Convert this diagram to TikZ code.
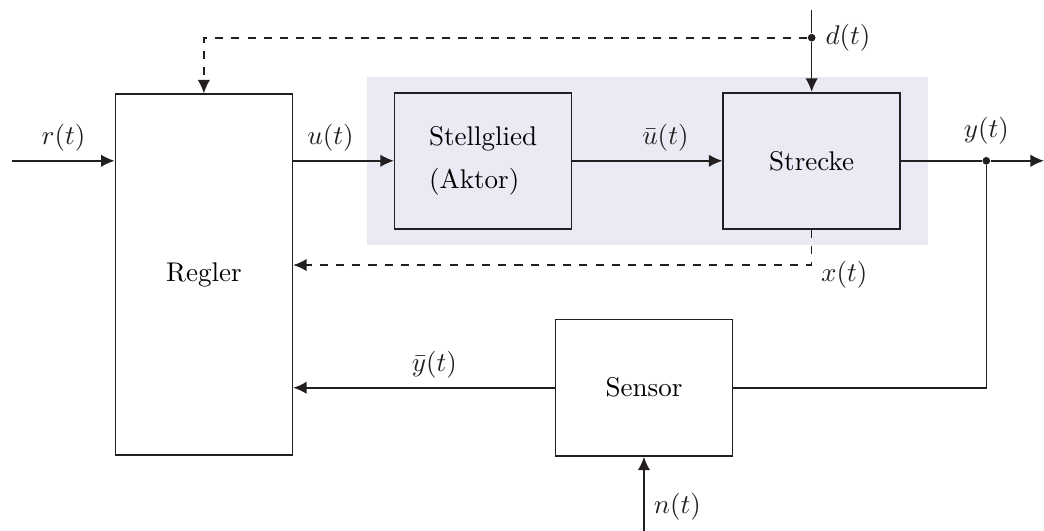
\documentclass[tikz,border=0pt]{standalone}
\usepackage{amsmath}
\usepackage{tikz}
\usetikzlibrary{arrows.meta,positioning,calc,fit,backgrounds}
\definecolor{ink}{RGB}{35,31,32}
\definecolor{soft}{RGB}{234,234,245}

\begin{document}
\begin{tikzpicture}[x=1cm,y=1cm,>={Latex[length=5pt,width=4.6pt]}]
\tikzset{blk/.style={rectangle,draw=ink,semithick,minimum width=2.3cm,inner sep=0pt},
  sig/.style={->,semithick,draw=ink},fb/.style={sig,dashed},wire/.style={semithick,draw=ink},
  lab/.style={text=ink},pt/.style={circle,fill=ink,inner sep=0pt,minimum size=1mm}}
\useasboundingbox (0,0) rectangle (13.57,-6.90);
\node[blk,minimum height=4.69cm] (reg) at (2.65,-3.57) {Regler};
\node[blk,minimum height=1.77cm,align=left] (act) at (6.28,-2.09) {Stellglied\\[4pt](Aktor)};
\node[blk,minimum height=1.77cm] (plant) at (10.55,-2.09) {Strecke};
\node[blk,minimum height=1.77cm] (sens) at (8.37,-5.04) {Sensor};
\coordinate (rin) at (0.16,-2.09);\coordinate (yout) at (13.57,-2.09);
\coordinate (dtop) at (10.55,-0.13);\coordinate (nin) at (8.37,-6.90);\coordinate (xc) at (10.55,-3.445);
\node[pt] (yj) at (12.82,-2.09) {};\node[pt] (dj) at (10.55,-0.49) {};
% forward path
\draw[sig] (rin) -- (reg.west |- rin) node[midway,above,lab]{$r(t)$};
\draw[sig] (reg.east |- act) -- (act.west) node[pos=0.37,above,lab]{$u(t)$};
\draw[sig] (act) -- (plant) node[pos=0.62,above,lab]{$\bar{u}(t)$};
\draw[wire] (plant) -- (yj);\draw[sig] (yj) -- (yout);\node[lab,above=1pt of yj]{$y(t)$};
% measurement
\draw[wire] (yj) |- (sens.east);
\draw[sig] (sens.west) -- (sens.west -| reg.east) node[pos=0.46,above,lab]{$\bar{y}(t)$};
\draw[sig] (nin) -- (sens.south) node[pos=0.32,right,lab]{$n(t)$};
% disturbance and state
\draw[wire] (dtop) -- (dj);\draw[sig] (dj) -- (plant.north);\node[lab,right=0pt of dj]{$d(t)$};
\draw[fb] (dj) -| (reg.north);
\draw[fb] (plant.south) |- (reg.east |- xc);\node[lab,right=0pt of xc,yshift=-0.13cm]{$x(t)$};
\begin{scope}[on background layer]\node[fit=(act)(plant),inner xsep=0.35cm,inner ysep=0.2cm,fill=soft,draw=none] {};\end{scope}
\end{tikzpicture}
\end{document}
